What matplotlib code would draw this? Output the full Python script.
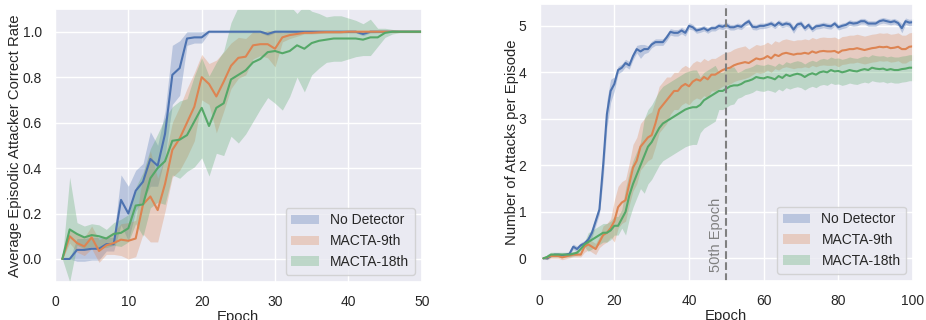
import numpy as np
import matplotlib
matplotlib.use('Agg')
import matplotlib.pyplot as plt
import seaborn as sns

# ---- left panel: correct rate, epochs 1..50
epochs_l = np.arange(1, 51)
nodet_rate = [0.0, 0.0, 0.04, 0.04, 0.045, 0.045, 0.065, 0.065, 0.26, 0.2,
              0.3, 0.34, 0.44, 0.41, 0.55, 0.81, 0.84, 0.97, 0.975, 0.975,
              1.0, 1.0, 1.0, 1.0, 1.0, 1.0, 1.0, 1.0, 0.99, 1.0,
              1.0, 1.0, 1.0, 1.0, 1.0, 1.0, 1.0, 1.0, 1.0, 1.0,
              1.0, 0.99, 1.0, 1.0, 1.0, 1.0, 1.0, 1.0, 1.0, 1.0]
nodet_rate_sd = [0.0, 0.0, 0.05, 0.05, 0.05, 0.05, 0.03, 0.03, 0.11, 0.12,
                 0.09, 0.08, 0.12, 0.09, 0.1, 0.13, 0.12, 0.03, 0.025, 0.025,
                 0.005, 0.005, 0.005, 0.005, 0.005, 0.005, 0.005, 0.005, 0.008, 0.005,
                 0.005, 0.005, 0.005, 0.005, 0.005, 0.005, 0.005, 0.005, 0.005, 0.005,
                 0.005, 0.008, 0.005, 0.005, 0.004, 0.004, 0.003, 0.003, 0.003, 0.003]
m9_rate = [0.0, 0.1, 0.07, 0.055, 0.095, 0.035, 0.06, 0.07, 0.085, 0.08,
           0.09, 0.24, 0.275, 0.215, 0.33, 0.48, 0.53, 0.6, 0.67, 0.8,
           0.77, 0.715, 0.78, 0.85, 0.885, 0.89, 0.94, 0.945, 0.945, 0.925,
           0.975, 0.985, 0.99, 0.995, 0.995, 0.997, 0.998, 0.998, 0.998, 1.0,
           1.0, 1.0, 1.0, 1.0, 1.0, 1.0, 1.0, 1.0, 1.0, 1.0]
m9_rate_sd = [0.0, 0.03, 0.04, 0.04, 0.05, 0.05, 0.04, 0.05, 0.07, 0.08,
              0.08, 0.13, 0.2, 0.14, 0.12, 0.12, 0.14, 0.15, 0.15, 0.1,
              0.09, 0.16, 0.13, 0.1, 0.09, 0.08, 0.06, 0.05, 0.06, 0.08,
              0.02, 0.015, 0.01, 0.005, 0.005, 0.005, 0.005, 0.005, 0.005, 0.005,
              0.005, 0.005, 0.005, 0.004, 0.004, 0.003, 0.003, 0.003, 0.003, 0.003]
m18_rate = [0.0, 0.13, 0.11, 0.095, 0.105, 0.1, 0.09, 0.11, 0.115, 0.135,
            0.235, 0.24, 0.355, 0.4, 0.43, 0.52, 0.525, 0.545, 0.605, 0.665,
            0.585, 0.665, 0.685, 0.79, 0.81, 0.83, 0.865, 0.88, 0.91, 0.915,
            0.905, 0.915, 0.94, 0.925, 0.95, 0.96, 0.965, 0.97, 0.97, 0.97,
            0.97, 0.965, 0.975, 0.975, 0.995, 1.0, 1.0, 1.0, 1.0, 1.0]
m18_rate_sd = [0.0, 0.23, 0.05, 0.05, 0.05, 0.05, 0.04, 0.05, 0.06, 0.06,
               0.08, 0.14, 0.13, 0.15, 0.19, 0.15, 0.17, 0.16, 0.2, 0.22,
               0.22, 0.2, 0.23, 0.25, 0.3, 0.28, 0.26, 0.22, 0.2, 0.23,
               0.25, 0.2, 0.14, 0.19, 0.14, 0.12, 0.1, 0.1, 0.1, 0.09,
               0.08, 0.07, 0.08, 0.04, 0.02, 0.01, 0.005, 0.005, 0.005, 0.005]

# ---- right panel: attacks per episode, epochs 1..100
epochs_r = np.arange(1, 101)
nodet_att = [0.0, 0.0, 0.05, 0.08, 0.08, 0.07, 0.08, 0.1, 0.25, 0.2,
             0.28, 0.32, 0.4, 0.55, 0.8, 1.05, 2.0, 3.1, 3.6, 3.75,
             4.05, 4.1, 4.2, 4.15, 4.35, 4.5, 4.45, 4.5, 4.5, 4.6,
             4.65, 4.65, 4.65, 4.75, 4.87, 4.85, 4.85, 4.9, 4.85, 5.0,
             4.97, 4.9, 4.92, 4.95, 4.9, 4.95, 4.95, 5.0, 4.98, 5.02,
             4.97, 4.97, 5.0, 4.98, 5.05, 5.1, 4.98, 4.97, 5.0, 5.0,
             5.02, 5.05, 5.0, 5.07, 5.02, 5.05, 5.03, 4.92, 5.03, 5.05,
             4.95, 5.02, 4.93, 4.99, 5.0, 5.02, 5.0, 4.99, 5.05, 4.97,
             5.0, 5.02, 5.07, 5.05, 5.06, 5.1, 5.1, 5.05, 5.05, 5.05,
             5.1, 5.12, 5.1, 5.08, 5.1, 5.06, 4.95, 5.1, 5.07, 5.08]
nodet_att_sd = [0.0, 0.02, 0.02, 0.02, 0.02, 0.02, 0.02, 0.02, 0.06, 0.06,
                0.06, 0.06, 0.06, 0.1, 0.1, 0.1, 0.3, 0.3, 0.25, 0.15,
                0.08, 0.08, 0.08, 0.08, 0.08, 0.08, 0.15, 0.1, 0.07, 0.07,
                0.07, 0.07, 0.07, 0.07, 0.07, 0.07, 0.07, 0.07, 0.07, 0.07,
                0.06, 0.06, 0.06, 0.06, 0.06, 0.06, 0.06, 0.06, 0.06, 0.06,
                0.06, 0.06, 0.06, 0.06, 0.06, 0.06, 0.06, 0.06, 0.06, 0.06,
                0.06, 0.06, 0.06, 0.06, 0.06, 0.06, 0.06, 0.08, 0.06, 0.06,
                0.06, 0.06, 0.06, 0.06, 0.06, 0.06, 0.06, 0.06, 0.06, 0.06,
                0.06, 0.06, 0.06, 0.06, 0.06, 0.06, 0.06, 0.06, 0.06, 0.06,
                0.06, 0.06, 0.06, 0.06, 0.06, 0.06, 0.1, 0.07, 0.07, 0.07]
m9_att = [0.0, 0.02, 0.05, 0.05, 0.05, 0.02, 0.04, 0.06, 0.08, 0.08,
          0.08, 0.25, 0.3, 0.25, 0.2, 0.35, 0.5, 0.55, 0.65, 0.8,
          1.1, 1.2, 1.25, 1.6, 1.95, 2.1, 2.4, 2.5, 2.6, 2.65,
          2.9, 3.2, 3.3, 3.4, 3.5, 3.6, 3.6, 3.7, 3.75, 3.7,
          3.8, 3.85, 3.82, 3.9, 3.85, 3.95, 3.95, 4.0, 4.05, 4.08,
          4.1, 4.15, 4.18, 4.2, 4.22, 4.2, 4.25, 4.3, 4.28, 4.3,
          4.35, 4.3, 4.38, 4.35, 4.4, 4.42, 4.4, 4.38, 4.4, 4.4,
          4.42, 4.4, 4.45, 4.42, 4.45, 4.46, 4.45, 4.45, 4.46, 4.42,
          4.47, 4.48, 4.5, 4.5, 4.52, 4.5, 4.48, 4.5, 4.52, 4.53,
          4.55, 4.54, 4.55, 4.52, 4.53, 4.55, 4.5, 4.5, 4.55, 4.56]
m9_att_sd = [0.0, 0.05, 0.05, 0.05, 0.05, 0.05, 0.05, 0.05, 0.05, 0.05,
             0.05, 0.12, 0.12, 0.12, 0.12, 0.12, 0.2, 0.2, 0.2, 0.45,
             0.45, 0.45, 0.45, 0.45, 0.5, 0.5, 0.5, 0.5, 0.5, 0.5,
             0.5, 0.5, 0.5, 0.5, 0.4, 0.4, 0.4, 0.4, 0.4, 0.4,
             0.4, 0.4, 0.4, 0.4, 0.4, 0.35, 0.35, 0.35, 0.35, 0.35,
             0.35, 0.35, 0.35, 0.35, 0.35, 0.3, 0.3, 0.3, 0.3, 0.3,
             0.3, 0.3, 0.3, 0.3, 0.3, 0.3, 0.3, 0.3, 0.3, 0.3,
             0.3, 0.3, 0.3, 0.3, 0.3, 0.3, 0.3, 0.3, 0.3, 0.3,
             0.3, 0.3, 0.3, 0.3, 0.3, 0.3, 0.3, 0.3, 0.3, 0.3,
             0.3, 0.3, 0.3, 0.3, 0.3, 0.3, 0.3, 0.3, 0.3, 0.3]
m18_att = [0.0, 0.03, 0.08, 0.08, 0.08, 0.08, 0.08, 0.08, 0.1, 0.12,
           0.2, 0.3, 0.35, 0.4, 0.45, 0.5, 0.55, 0.55, 0.6, 0.7,
           0.7, 0.85, 1.0, 1.35, 1.6, 1.8, 2.0, 2.2, 2.4, 2.5,
           2.65, 2.8, 2.9, 2.95, 3.0, 3.05, 3.1, 3.15, 3.2, 3.23,
           3.25, 3.25, 3.3, 3.4, 3.45, 3.5, 3.55, 3.6, 3.6, 3.65,
           3.7, 3.72, 3.72, 3.75, 3.8, 3.82, 3.85, 3.9, 3.88, 3.87,
           3.9, 3.88, 3.85, 3.92, 3.88, 3.95, 3.92, 3.95, 3.97, 3.95,
           3.9, 3.95, 3.98, 3.95, 4.0, 4.02, 4.0, 4.05, 4.02, 4.03,
           4.0, 4.02, 4.05, 4.03, 4.02, 4.05, 4.07, 4.05, 4.1, 4.08,
           4.07, 4.08, 4.05, 4.07, 4.05, 4.05, 4.07, 4.08, 4.1, 4.1]
m18_att_sd = [0.0, 0.05, 0.05, 0.05, 0.05, 0.05, 0.05, 0.05, 0.05, 0.05,
              0.05, 0.05, 0.2, 0.2, 0.2, 0.2, 0.2, 0.2, 0.2, 0.2,
              0.2, 0.2, 0.5, 0.5, 0.5, 0.5, 0.5, 0.8, 0.8, 0.8,
              0.8, 0.8, 0.8, 0.8, 0.8, 0.8, 0.8, 0.8, 0.8, 0.8,
              0.8, 0.8, 0.6, 0.6, 0.6, 0.6, 0.6, 0.4, 0.4, 0.4,
              0.4, 0.4, 0.28, 0.28, 0.28, 0.28, 0.28, 0.28, 0.28, 0.28,
              0.28, 0.28, 0.28, 0.28, 0.28, 0.28, 0.28, 0.28, 0.28, 0.28,
              0.28, 0.28, 0.28, 0.28, 0.28, 0.28, 0.28, 0.28, 0.28, 0.28,
              0.28, 0.28, 0.28, 0.28, 0.28, 0.28, 0.28, 0.28, 0.28, 0.28,
              0.28, 0.28, 0.28, 0.28, 0.28, 0.28, 0.28, 0.28, 0.28, 0.28]

labels = ["No Detector", "MACTA-9th", "MACTA-18th"]
marker_epoch = 50


def draw(ax, x, series, fs=10.7, tfs=10):
    colors = sns.color_palette("deep")
    for i, (mean, sd) in enumerate(series):
        mean = np.asarray(mean)
        sd = np.asarray(sd)
        ax.plot(x, mean, color=colors[i], lw=1.5)
        ax.fill_between(x, mean - sd, mean + sd, color=colors[i], alpha=0.3,
                        lw=0, label=labels[i])
    ax.legend(loc="lower right", fontsize=tfs)
    ax.set_xlabel("Epoch", fontsize=fs, labelpad=1)
    ax.tick_params(axis='both', which='major', labelsize=tfs)


if __name__ == "__main__":
    sns.set_theme(style="darkgrid")
    plt.rcParams['font.family'] = ['Liberation Sans', 'DejaVu Sans']

    fig = plt.figure(figsize=(9.26, 3.2), dpi=100)
    ax1 = fig.add_axes([0.0594, 0.1197, 0.396, 0.8523])
    ax2 = fig.add_axes([0.5828, 0.123, 0.4032, 0.8645])

    draw(ax1, epochs_l, [(nodet_rate, nodet_rate_sd), (m9_rate, m9_rate_sd),
                         (m18_rate, m18_rate_sd)])
    ax1.set_xlim(0, 50)
    ax1.set_ylim(-0.1, 1.1)
    ax1.set_yticks(np.arange(0, 1.01, 0.2))
    ax1.set_ylabel("Average Episodic Attacker Correct Rate", fontsize=10.7,
                   labelpad=0)

    draw(ax2, epochs_r, [(nodet_att, nodet_att_sd), (m9_att, m9_att_sd),
                         (m18_att, m18_att_sd)])
    ax2.axvline(marker_epoch, color="gray", ls="--", lw=1.5)
    ax2.text(marker_epoch - 0.8, -0.3, "50th Epoch", rotation=90, color="gray",
             fontsize=10.5, ha="right", va="bottom")
    ax2.set_xlim(0, 100)
    ax2.set_ylim(-0.48, 5.47)
    ax2.set_yticks(range(0, 6))
    ax2.set_ylabel("Number of Attacks per Episode", fontsize=10.7, labelpad=0)

    fig.savefig("out.png")
